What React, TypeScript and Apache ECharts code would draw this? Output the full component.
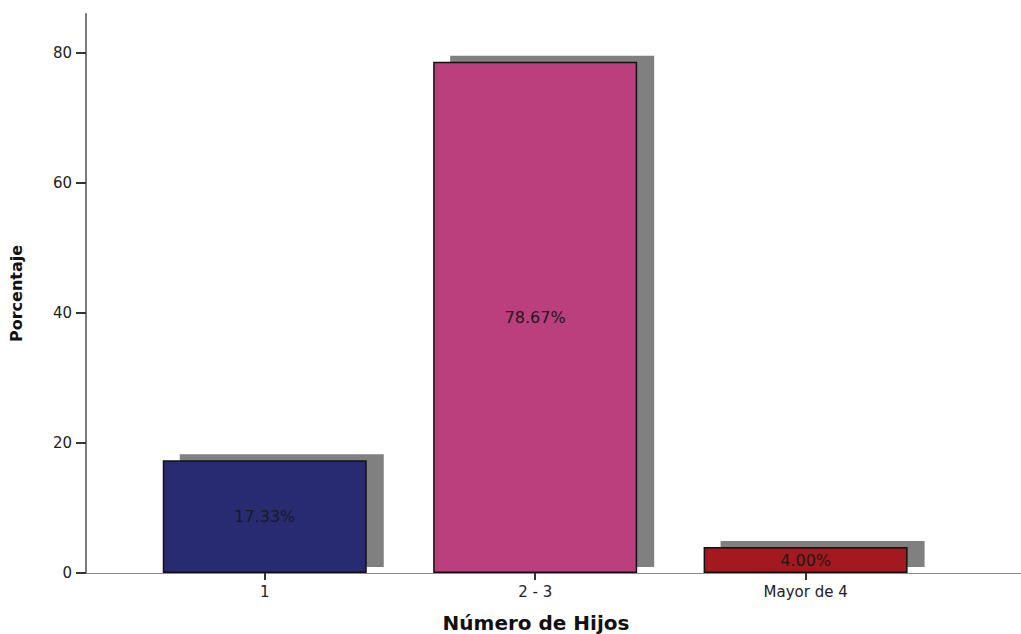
import React, { useEffect, useRef } from "react";
import * as echarts from "echarts";

// Number of children: share of respondents per group
const categories = ["1", "2 - 3", "Mayor de 4"];
const positions = [1, 2, 3];
const percentages = [17.33, 78.67, 4.0];
const barColors = ["#282a72", "#bb3f7c", "#a3191f"];
const yTicks = [0, 20, 40, 60, 80];

const BAR_WIDTH = 204;
const SHADOW_DX = 17;
const SHADOW_DY = -6;
const FONT = "'DejaVu Sans', sans-serif";

export default function App() {
  const ref = useRef<HTMLDivElement>(null);

  useEffect(() => {
    if (!ref.current) return;
    const chart = echarts.init(ref.current, undefined, { renderer: "svg" });

    chart.setOption({
      animation: false,
      backgroundColor: "#ffffff",
      grid: { left: 84, right: 0, top: 14, bottom: 61, containLabel: false },
      xAxis: {
        type: "value",
        min: 0.339,
        max: 3.7965,
        axisLine: { show: true, lineStyle: { color: "#8a8a8a", width: 1 } },
        axisTick: {
          show: true,
          customValues: positions,
          length: 7,
          lineStyle: { color: "#333333", width: 2 },
        },
        axisLabel: {
          customValues: positions,
          margin: 11,
          fontFamily: FONT,
          fontSize: 15,
          color: "#222222",
          formatter: (v: number) => categories[Math.round(v) - 1] ?? "",
        },
        splitLine: { show: false },
      },
      yAxis: {
        type: "value",
        min: 0,
        max: 86,
        interval: 20,
        name: "Porcentaje",
        nameLocation: "middle",
        nameRotate: 90,
        nameGap: 62,
        nameTextStyle: {
          fontFamily: FONT,
          fontSize: 16,
          fontWeight: "bold",
          color: "#111111",
        },
        axisLine: { show: true, lineStyle: { color: "#7a7a7a", width: 2 } },
        axisTick: {
          show: true,
          customValues: yTicks,
          length: 10,
          lineStyle: { color: "#333333", width: 2 },
        },
        axisLabel: {
          customValues: yTicks,
          margin: 14,
          fontFamily: FONT,
          fontSize: 15,
          color: "#222222",
        },
        splitLine: { show: false },
      },
      graphic: [
        {
          type: "text",
          x: 536,
          y: 623,
          style: {
            text: "Número de Hijos",
            fontFamily: FONT,
            fontSize: 20,
            fontWeight: "bold",
            fill: "#111111",
            textAlign: "center",
            textVerticalAlign: "middle",
          },
        },
      ],
      series: [
        {
          // drop shadow behind each bar
          type: "custom",
          z: 1,
          data: positions.map((p, i) => [p, percentages[i]]),
          renderItem: (_params: any, api: any) => {
            const top = api.coord([api.value(0), api.value(1)]);
            const base = api.coord([api.value(0), 0]);
            return {
              type: "rect",
              shape: {
                x: top[0] - BAR_WIDTH / 2 + SHADOW_DX,
                y: top[1] + SHADOW_DY,
                width: BAR_WIDTH,
                height: base[1] - top[1],
              },
              style: { fill: "#808080" },
            };
          },
        },
        {
          type: "bar",
          z: 3,
          barWidth: BAR_WIDTH,
          data: positions.map((p, i) => ({
            value: [p, percentages[i]],
            itemStyle: { color: barColors[i] },
          })),
          itemStyle: { borderColor: "#111111", borderWidth: 1.5 },
          label: {
            show: true,
            position: "inside",
            fontFamily: FONT,
            fontSize: 16,
            color: "#1a1a1a",
            formatter: (p: any) => `${p.value[1].toFixed(2)}%`,
          },
        },
      ],
    });

    return () => chart.dispose();
  }, []);

  return (
    <div
      ref={ref}
      style={{ position: "fixed", left: 0, top: 0, width: 1021, height: 634 }}
    />
  );
}
